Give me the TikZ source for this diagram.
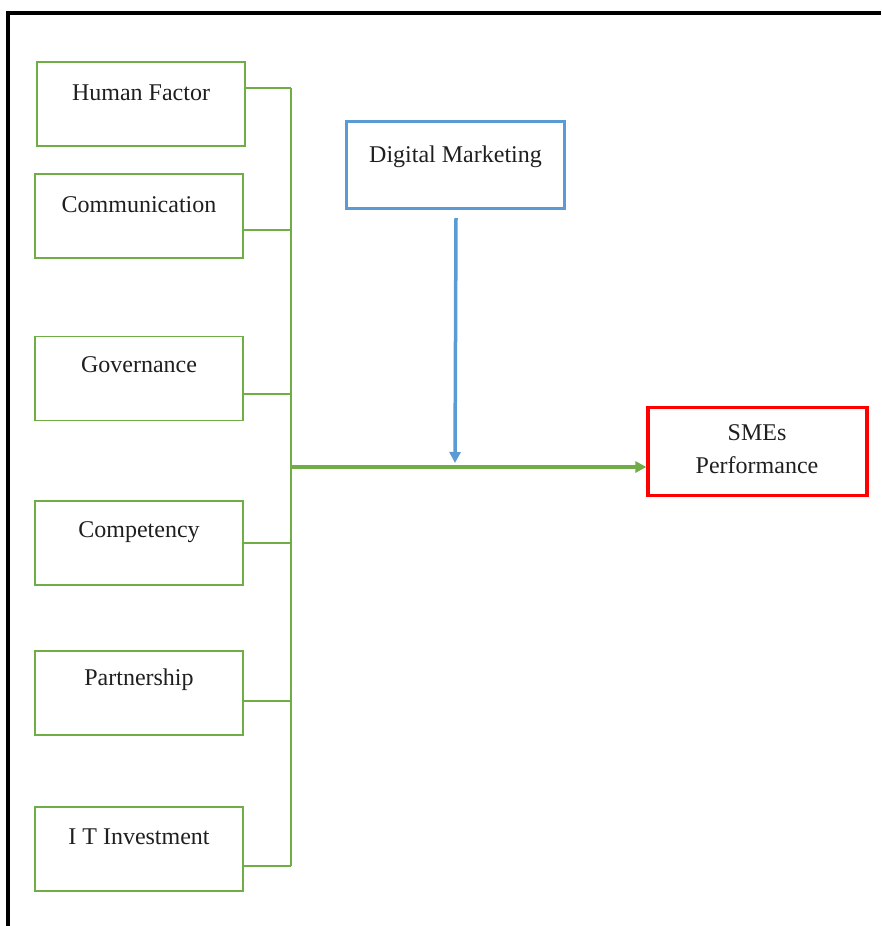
\documentclass[tikz,border=0pt]{standalone}
\usepackage{fontspec}
\setmainfont{Liberation Serif}
\usetikzlibrary{arrows.meta}
\definecolor{gline}{HTML}{70AD47}
\definecolor{bline}{HTML}{5B9BD5}
\definecolor{rline}{HTML}{FF0000}
\tikzset{
  gbox/.style={draw=gline, line width=1.9pt, minimum width=208pt, minimum height=84pt, inner sep=0pt},
  bbox/.style={draw=bline, line width=3.2pt, minimum width=218pt, minimum height=87pt, inner sep=0pt},
  rbox/.style={draw=rline, line width=3.2pt, minimum width=219pt, minimum height=88pt, inner sep=0pt},
  txt/.style={font=\fontsize{24}{33}\selectfont, inner sep=0pt, align=center, text=black!88},
  gconn/.style={draw=gline, line width=1.9pt},
  marrow/.style={draw=gline, line width=3.8pt, -{Triangle[length=11pt,width=11pt]}},
  barrow/.style={draw=bline, line width=3.5pt, -{Triangle[length=11pt,width=11pt]}},
  frame/.style={draw=black, line width=3.5pt}
}
\begin{document}
\begin{tikzpicture}[x=1pt,y=-1pt]
\useasboundingbox (0,0) rectangle (881,926);
% frame
\coordinate (fbl) at (8,926);
\coordinate (ftl) at (8,13);
\coordinate (ftr) at (881,13);
\draw[frame] (fbl) -- (ftl) -- (ftr);
% left boxes
\node[gbox] (hf) at (141,104) {};
\node[txt] (hfT) at (141,93) {Human Factor};
\node[gbox] (co) at (139,216) {};
\node[txt] (coT) at (139,205) {Communication};
\node[gbox] (go) at (139,378.5) {};
\node[txt] (goT) at (139,365) {Governance};
\node[gbox] (cp) at (139,543) {};
\node[txt] (cpT) at (139,532) {Competency};
\node[gbox] (pa) at (139,693) {};
\node[txt] (paT) at (139,680) {Partnership};
\node[gbox] (it) at (139,849) {};
\node[txt] (itT) at (139,837) {I T Investment};
% right boxes
\node[bbox] (dm) at (455.5,165) {};
\node[txt] (dmT) at (455.5,157) {Digital Marketing};
\node[rbox] (sm) at (757.5,451.5) {};
\node[txt] (smT) at (757,449) {SMEs\\Performance};
% bus
\coordinate (b1) at (291,88);
\coordinate (b2) at (291,230);
\coordinate (b3) at (291,394);
\coordinate (b4) at (291,543);
\coordinate (b5) at (291,701);
\coordinate (b6) at (291,866);
\coordinate (bm) at (291,467);
\draw[gconn] (b1) -- (b6);
\draw[gconn] (hf.east |- b1) -- (b1);
\draw[gconn] (co.east |- b2) -- (b2);
\draw[gconn] (go.east |- b3) -- (b3);
\draw[gconn] (cp.east |- b4) -- (b4);
\draw[gconn] (pa.east |- b5) -- (b5);
\draw[gconn] (it.east |- b6) -- (b6);
% main arrow
\draw[marrow] (bm) -- (sm.west |- bm);
% blue arrow
\coordinate (dms) at (456,218);
\coordinate (dme) at (455,463);
\draw[barrow] (dms) -- (dme);
\end{tikzpicture}
\end{document}
